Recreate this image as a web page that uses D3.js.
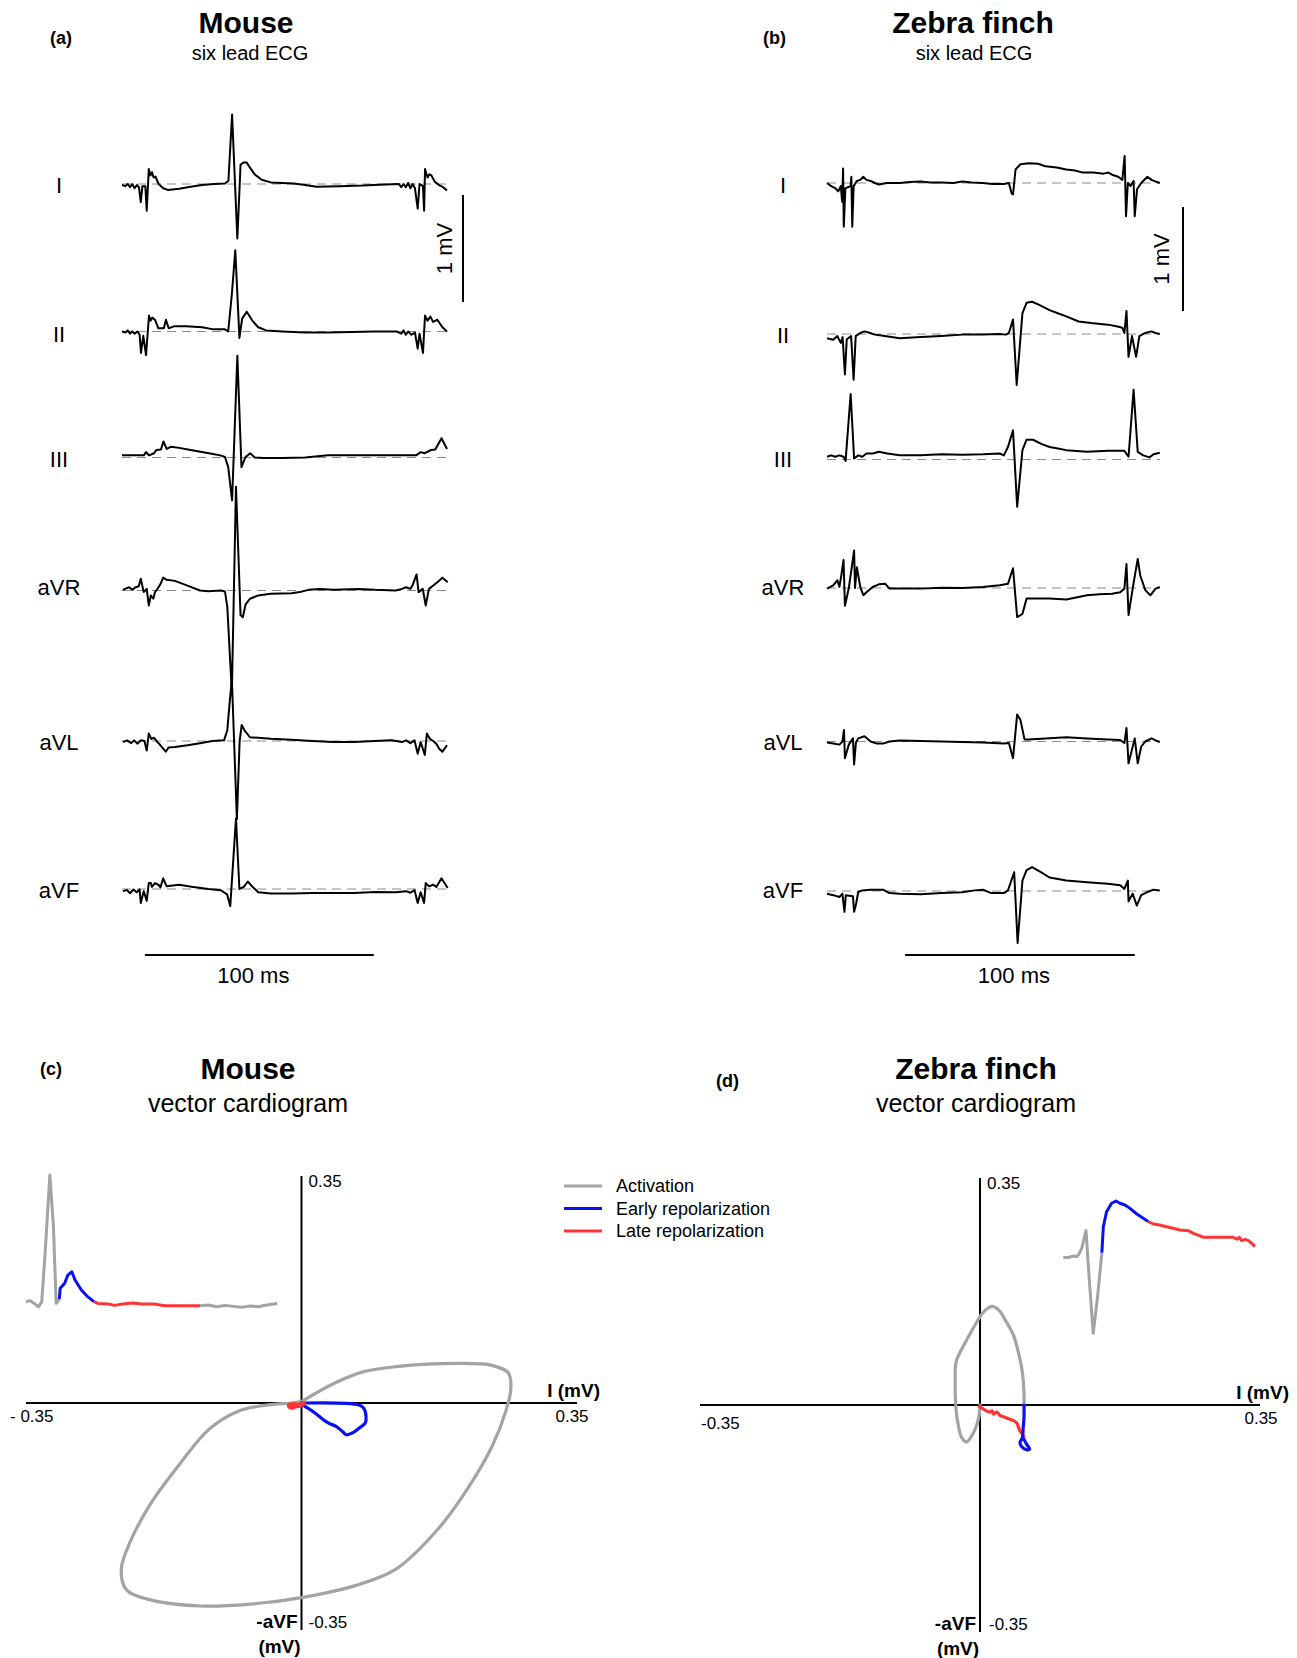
<!DOCTYPE html>
<html>
<head>
<meta charset="utf-8">
<script src="https://cdn.jsdelivr.net/npm/d3@7"></script>
<style>
  body { margin: 0; background: #fff; }
  svg { display: block; }
  text { font-family: "Liberation Sans", Arial, sans-serif; fill: #000; }
</style>
</head>
<body>
<svg id="chart" width="1297" height="1658"></svg>
<script>
// ---- Data: six lead ECG, [time (ms), voltage (mV)] ----
const leadNames = ["I", "II", "III", "aVR", "aVL", "aVF"];

const mouseI = [[0,-0.01],[1.5,-0.02],[2.5,0.0],[3.5,-0.03],[4.5,0.0],[5.5,-0.04],[6.5,-0.01],[7.4,-0.03],[8.2,-0.17],[8.9,-0.02],[10.2,-0.02],[10.8,-0.25],[11.7,0.14],[12.4,0.08],[13.1,0.11],[13.8,0.06],[14.6,0.07],[16,0.0],[18,-0.04],[20,-0.055],[25,-0.045],[30,-0.025],[35,-0.01],[40,0.0],[45,0.005],[46.5,0.03],[48.1,0.65],[50.4,-0.51],[51.8,0.18],[53,0.2],[54.5,0.2],[56,0.15],[58,0.09],[61,0.04],[65,0.015],[70,0.01],[75,0.005],[80,-0.01],[85,-0.025],[95,-0.02],[105,-0.015],[115,-0.005],[121,0.0],[122,-0.03],[123,0.0],[124,-0.03],[125,0.01],[126,-0.04],[127,0.0],[128,-0.04],[129.2,-0.23],[130,0.0],[131.5,-0.02],[132,-0.25],[132.4,0.14],[133.5,0.06],[134.3,0.09],[135.2,0.08],[136.7,0.02],[138.5,-0.01],[140.3,-0.03],[142,-0.06]];
const mouseII = [[0,0],[1.5,-0.01],[2.5,0.01],[3.5,-0.02],[4.5,0.0],[5.5,-0.02],[6.8,0.0],[7.7,-0.03],[8.3,-0.2],[9.3,-0.04],[10.5,-0.22],[11.8,0.15],[12.5,0.1],[13.2,0.13],[14.4,0.11],[15.9,0.03],[18.3,0.03],[19.2,0.11],[20.4,0.03],[23,0.05],[28,0.05],[35,0.04],[40,0.02],[45,0.02],[46.4,0.0],[48,0.35],[49.5,0.76],[51.3,-0.06],[52.5,0.12],[54.5,0.185],[57,0.1],[59.5,0.04],[63,0.01],[70,0.0],[80,-0.01],[90,-0.01],[100,-0.005],[110,0.0],[120,0.0],[122,-0.02],[123,0.01],[124,-0.03],[125,0.0],[126.5,-0.03],[128,-0.01],[129.2,-0.16],[130,-0.02],[131.5,-0.2],[132.4,0.15],[133.5,0.1],[134.7,0.14],[135.9,0.09],[137.8,0.11],[140,0.04],[142,0.0]];
const mouseIII = [[0,0.02],[5,0.02],[9.5,0.02],[10.5,0.05],[11.8,0.02],[14,0.04],[15,0.07],[17,0.075],[18.1,0.15],[19.5,0.08],[21.3,0.1],[25,0.09],[30,0.07],[38,0.04],[43,0.02],[45,0.005],[46.4,-0.09],[48.1,-0.4],[50.4,0.95],[52.2,-0.09],[54,0.005],[56,0.04],[58,0.0],[62,-0.005],[70,-0.005],[80,0.0],[90,0.02],[100,0.02],[110,0.02],[120,0.02],[128.5,0.02],[130.5,0.05],[132.3,0.04],[135,0.07],[136.9,0.075],[139.6,0.18],[142,0.08]];
const mouseAVR = [[0.4,0.006],[1.3,0.015],[3.1,0.03],[4.6,0.006],[5.9,0.03],[7.3,0.04],[8.2,0.11],[9.5,-0.015],[10.8,0.015],[11.7,-0.14],[12.6,-0.046],[13.7,-0.077],[14.4,-0.015],[15.5,0.015],[16.8,0.06],[18.0,0.12],[19.5,0.1],[23.1,0.09],[28.6,0.046],[34.1,0.0],[37.7,-0.006],[43.2,0.0],[45,-0.01],[46,-0.15],[47,-0.55],[48,-0.95],[49.8,0.97],[51.8,-0.23],[52.8,-0.25],[54,-0.13],[55.9,-0.077],[59.5,-0.046],[65,-0.03],[74.1,-0.025],[77.7,-0.015],[81.4,0.006],[86.8,0.015],[92.3,0.006],[103.2,0.015],[110.5,0.006],[119.6,0.0],[122.3,0.015],[124.1,0.03],[126,0.015],[126.9,0.046],[128.7,0.15],[129.6,-0.015],[131.4,0.015],[132.7,-0.14],[134.1,0.015],[136,0.046],[137.8,0.077],[140,0.12],[142.3,0.077]];
const mouseAVL = [[0.4,-0.01],[2.2,0.006],[4.0,-0.02],[5.3,0.006],[6.8,-0.025],[8.2,0.006],[9.8,0.0],[10.8,-0.09],[11.7,0.07],[12.8,0.02],[14.0,0.03],[15.5,-0.01],[16.8,-0.04],[19.1,-0.1],[20.4,-0.06],[23.1,-0.055],[28.6,-0.04],[34.1,-0.02],[39.5,0.0],[44.6,0.006],[46,0.1],[47,0.35],[48,0.58],[50.2,-0.73],[51.4,0.0],[52.3,0.15],[53.5,0.1],[55.9,0.035],[59.5,0.03],[65,0.02],[74.1,0.012],[83.2,0.0],[92.3,-0.01],[101.4,-0.01],[110.5,0.0],[117.8,0.006],[122.3,-0.01],[124.1,0.006],[126,-0.02],[127.8,0.006],[129.2,-0.12],[130.5,-0.01],[132.3,-0.13],[133.2,0.07],[134.5,0.02],[136,0.0],[137.5,-0.03],[138.5,-0.07],[140,-0.1],[142,-0.04]];
const mouseAVF = [[0.4,-0.02],[2.2,-0.01],[3.5,-0.04],[5,-0.005],[6.4,-0.03],[7.7,-0.005],[8.2,-0.13],[9.5,-0.02],[10.8,-0.11],[11.7,0.055],[12.6,0.055],[13.1,0.02],[14.4,0.055],[15.9,0.04],[16.8,0.015],[18.0,0.1],[19.5,0.025],[21.3,0.03],[25,0.04],[30.4,0.02],[37.7,0.0],[43.2,-0.012],[45.9,-0.05],[47.3,-0.16],[49.8,0.66],[51.3,0.0],[53.2,0.02],[55,0.07],[56.8,0.025],[59.5,-0.03],[65,-0.043],[74.1,-0.043],[83.2,-0.037],[92.3,-0.037],[101.4,-0.037],[110.5,-0.028],[119.6,-0.03],[124.1,-0.02],[126,-0.035],[127.8,-0.01],[129.2,-0.13],[130.5,-0.03],[132,-0.13],[132.7,0.055],[134.1,0.025],[135.9,0.04],[137.4,0.02],[139.6,0.1],[142.3,0.01]];

const finchI = [[0,0],[1.8,-0.03],[3.6,-0.05],[4.9,-0.08],[6.0,-0.03],[6.6,-0.18],[7.0,0.14],[7.3,-0.42],[8.0,-0.05],[10.3,-0.03],[10.6,0.06],[11.0,-0.42],[11.6,-0.03],[13.0,0.02],[14.5,0.03],[15.8,0.06],[17.2,0.03],[19,0.02],[20.8,0.0],[22.6,-0.015],[26,0.0],[31.7,0.0],[36,0.01],[40.8,0.015],[45,0.005],[49.8,0.005],[55,0.0],[58.9,0.015],[63,0.005],[67.9,0.0],[72,-0.01],[77,-0.01],[79.2,0.0],[80.4,-0.1],[81.0,-0.11],[82.1,0.13],[84.2,0.18],[87.9,0.19],[92,0.185],[95.1,0.16],[100,0.15],[104.2,0.13],[108,0.12],[111.4,0.1],[116,0.1],[120.5,0.09],[122.5,0.1],[124.1,0.08],[126.8,0.06],[128.6,0.03],[129.6,0.26],[130.2,-0.32],[131,0.0],[132.2,-0.03],[133.5,0.02],[134.0,-0.32],[135,-0.06],[136.8,0.0],[139.5,0.06],[141.3,0.03],[143,0.015],[144.9,0.0]];
const finchII = [[0,-0.04],[2.7,-0.055],[4.5,-0.02],[6.0,-0.085],[6.8,-0.03],[7.8,-0.39],[8.6,-0.05],[10.5,-0.02],[11.6,-0.44],[12.5,-0.02],[14.5,0.01],[16.3,0.025],[18.1,0.015],[20.8,-0.006],[24.4,-0.016],[31.7,-0.04],[40.8,-0.03],[49.8,-0.02],[58.9,-0.006],[67.9,-0.006],[75.2,0.0],[77.9,-0.006],[79.2,0.01],[81.0,0.14],[82.6,-0.49],[85.1,0.2],[86.9,0.3],[89.3,0.31],[92.4,0.28],[96.9,0.23],[100.5,0.2],[104.2,0.17],[109.6,0.12],[115,0.105],[122.3,0.09],[126,0.075],[128.6,0.06],[129.5,0.01],[130.4,0.22],[131.3,-0.22],[132.8,-0.02],[134.6,-0.22],[136.0,-0.02],[138.6,0.01],[141.3,0.025],[143,0.01],[144.9,0.0]];
const finchIII = [[0,0.026],[1.8,0.04],[3.6,0.026],[5.4,0.04],[7.2,0.026],[8.1,-0.013],[10.3,0.63],[11.8,0.01],[13.6,0.04],[15.4,0.026],[17.2,0.058],[19.9,0.058],[22.6,0.074],[26.3,0.058],[31.7,0.04],[40.8,0.04],[49.8,0.05],[58.9,0.045],[67.9,0.05],[75.2,0.058],[77,0.04],[78.8,0.12],[81.0,0.28],[82.8,-0.455],[85.1,0.09],[86.9,0.19],[89.7,0.19],[93.3,0.15],[96.9,0.12],[100.5,0.106],[104.2,0.09],[113.2,0.074],[122.3,0.083],[129.5,0.083],[131.3,0.026],[133.5,0.67],[135.3,0.074],[137.7,0.04],[140.4,0.02],[142.2,0.05],[144.9,0.064]];
const finchAVR = [[0,-0.006],[2.7,0.026],[4.5,0.074],[5.4,0.01],[6.3,0.13],[7.2,0.27],[7.8,-0.17],[9.5,0.0],[11.8,0.36],[12.2,0.0],[13.0,0.2],[14.5,0.01],[15.8,-0.07],[17.2,-0.04],[19.9,0.01],[22.6,0.035],[25.4,0.04],[27.2,-0.006],[31.7,-0.006],[40.8,-0.006],[49.8,0.003],[58.9,0.0],[67.9,0.01],[75.2,0.026],[78.8,0.04],[81.0,0.19],[82.8,-0.28],[85.1,-0.25],[86.9,-0.1],[89.7,-0.1],[96.9,-0.1],[104.2,-0.11],[113.2,-0.07],[118.6,-0.06],[124.1,-0.055],[127.7,-0.04],[129.5,-0.006],[130.4,0.23],[131.3,-0.26],[133.1,-0.006],[135.3,0.28],[136.4,0.12],[138.6,-0.02],[140.8,-0.07],[143.1,-0.006],[144.9,0.01]];
const finchAVL = [[0,-0.01],[2.7,-0.02],[5.4,-0.03],[6.7,0.0],[7.4,0.11],[7.8,-0.16],[9.5,-0.03],[11.3,0.03],[11.8,-0.22],[12.6,-0.01],[13.6,0.03],[16.3,0.05],[19,0.0],[21.7,-0.02],[24.4,-0.02],[27.2,0.0],[31.7,0.01],[40.8,0.005],[49.8,0.0],[58.9,-0.005],[67.9,-0.01],[77,-0.02],[79.2,-0.015],[81.0,-0.16],[82.8,0.26],[84.2,0.21],[86.0,0.02],[87.9,0.02],[95.1,0.03],[104.2,0.04],[113.2,0.03],[122.3,0.02],[127.7,0.015],[129.5,-0.015],[130.4,0.13],[131.3,-0.21],[134.0,0.03],[135.3,-0.21],[136.8,-0.05],[138.6,0.0],[141.3,0.03],[143.1,0.01],[144.9,-0.005]];
const finchAVF = [[0,-0.026],[2.7,-0.04],[5.4,-0.058],[6.7,-0.026],[7.6,-0.2],[8.2,-0.04],[11.3,-0.05],[11.8,-0.2],[12.7,-0.12],[13.6,-0.01],[15.4,0.006],[19,0.013],[24.4,0.013],[27.2,-0.02],[31.7,-0.026],[40.8,-0.032],[49.8,-0.02],[58.9,-0.013],[64.3,0.006],[67.9,0.013],[71.5,-0.02],[77,-0.02],[78.8,0.006],[81.5,0.18],[83.0,-0.5],[85.1,0.1],[86.9,0.2],[89.3,0.23],[93.3,0.18],[96.9,0.13],[104.2,0.1],[113.2,0.085],[122.3,0.07],[127.7,0.055],[129.5,0.02],[131.0,0.1],[131.3,-0.1],[133.1,-0.026],[134.9,-0.14],[136.8,-0.04],[139.5,-0.01],[142.2,0.013],[144.9,0.006]];

// ---- Data: vector cardiograms, [lead I (mV), -aVF (mV)] ----
const mouseVcgActivation = [[0,0.002],[0.041,0.030],[0.078,0.048],[0.120,0.056],[0.200,0.061],[0.242,0.058],[0.263,0.046],[0.266,0.023],[0.260,-0.011],[0.242,-0.067],[0.210,-0.134],[0.173,-0.195],[0.120,-0.256],[0.067,-0.282],[0.0,-0.300],[-0.065,-0.310],[-0.128,-0.313],[-0.197,-0.302],[-0.223,-0.287],[-0.229,-0.256],[-0.218,-0.215],[-0.191,-0.154],[-0.154,-0.093],[-0.118,-0.041],[-0.081,-0.013],[-0.043,-0.003],[-0.012,0.0],[0,0.002]];
const mouseVcgEarly = [[0.004,0.0],[0.073,-0.003],[0.079,-0.008],[0.082,-0.021],[0.081,-0.031],[0.073,-0.039],[0.065,-0.046],[0.057,-0.049],[0.052,-0.044],[0.044,-0.036],[0.036,-0.032],[0.028,-0.026],[0.020,-0.018],[0.012,-0.011],[0.004,-0.005],[0.0,0.0]];
const mouseVcgLate = [[0.003,-0.001],[-0.004,-0.003],[-0.01,-0.002],[-0.016,-0.004],[-0.013,-0.007],[-0.008,-0.005],[-0.003,-0.004],[0.0,-0.002]];

const finchVcgActivation = [[0,0],[-0.001,-0.016],[-0.005,-0.034],[-0.010,-0.047],[-0.017,-0.057],[-0.023,-0.050],[-0.027,-0.032],[-0.030,-0.006],[-0.031,0.030],[-0.030,0.066],[-0.025,0.081],[-0.015,0.104],[-0.004,0.128],[0.004,0.143],[0.015,0.152],[0.023,0.147],[0.033,0.128],[0.042,0.107],[0.048,0.081],[0.053,0.050],[0.055,0.020],[0.055,0.0]];
const finchVcgEarly = [[0.055,0.0],[0.055,-0.02],[0.054,-0.035],[0.053,-0.05],[0.05,-0.058],[0.052,-0.064],[0.058,-0.069],[0.062,-0.068],[0.058,-0.06],[0.055,-0.053]];
const finchVcgLate = [[0.055,-0.05],[0.053,-0.045],[0.05,-0.04],[0.048,-0.034],[0.046,-0.028],[0.042,-0.024],[0.0375,-0.022],[0.031,-0.019],[0.025,-0.016],[0.021,-0.011],[0.017,-0.014],[0.015,-0.009],[0.0125,-0.011],[0.008,-0.009],[0.004,-0.006],[-0.001,-0.002]];

// ---- Data: single beat insets, [time (ms), mV] split by phase ----
const mouseInsetActivation = [[0,0.007],[0.9,0.012],[1.8,-0.002],[2.8,-0.019],[3.5,0.007],[4.2,0.234],[5.3,0.646],[6.1,0.385],[6.7,-0.002],[7.4,0.019]];
const mouseInsetEarly = [[7.4,0.019],[7.6,0.074],[8.6,0.1],[9.3,0.141],[10.2,0.158],[10.9,0.116],[12.3,0.066],[13.7,0.032],[15.1,0.007]];
const mouseInsetLate = [[15.1,0.007],[16.0,-0.002],[18.3,-0.005],[19.7,-0.012],[21.5,-0.005],[23.8,0.0],[25.7,-0.005],[28.5,-0.005],[30.8,-0.014],[34.0,-0.014],[38.7,-0.014]];
const mouseInsetRest = [[38.7,-0.014],[40.5,-0.01],[42.4,-0.019],[44.2,-0.012],[46.1,-0.017],[47.9,-0.022],[49.8,-0.015],[51.6,-0.019],[53.5,-0.01],[55.8,-0.002]];

const finchInsetActivation = [[0.1,0.0],[1.5,0.0],[2.9,0.009],[3.8,0.005],[4.3,0.015],[5.2,0.054],[6.4,0.158],[7.3,-0.132],[8.4,-0.446],[9.6,-0.231],[10.8,0.028]];
const finchInsetEarly = [[10.8,0.028],[11.2,0.181],[12.1,0.269],[13.5,0.319],[14.7,0.332],[15.8,0.319],[17.2,0.309],[18.6,0.289],[20.5,0.256],[22.3,0.231],[23.7,0.211]];
const finchInsetLate = [[23.7,0.211],[25.1,0.197],[26.9,0.191],[28.8,0.181],[30.6,0.172],[32.5,0.162],[34.8,0.158],[36.2,0.142],[37.6,0.132],[39.0,0.119],[42.7,0.119],[47.3,0.119],[48.3,0.107],[49.0,0.119],[49.6,0.099],[50.6,0.107],[51.5,0.099],[52.4,0.084],[53.3,0.064]];

const GRAY = "#a3a3a3", BLUE = "#0a10f5", RED = "#ff3535";

const legendItems = [
  { color: GRAY, text: "Activation" },
  { color: BLUE, text: "Early repolarization" },
  { color: RED, text: "Late repolarization" }
];

const svg = d3.select("#chart");

function addText(x, y, str, size, opts = {}) {
  const t = svg.append("text")
    .attr("x", x)
    .attr("y", y)
    .attr("font-size", size + "px")
    .attr("text-anchor", opts.anchor || "start")
    .attr("font-weight", opts.bold ? "bold" : "normal")
    .text(str);
  if (opts.rotate) t.attr("transform", `rotate(-90, ${x}, ${y})`);
  return t;
}

// ---- Panels (a) and (b): six lead ECG ----
function drawEcg(cfg) {
  const x = d3.scaleLinear().domain(cfg.domain).range(cfg.range);

  cfg.traces.forEach((trace, i) => {
    const base = cfg.baselines[i];
    const y = d3.scaleLinear().domain([0, 1]).range([base, base - cfg.pxPerMv]);

    // dashed zero line
    svg.append("line")
      .attr("x1", x(cfg.domain[0]))
      .attr("x2", x(cfg.domain[1]))
      .attr("y1", y(0))
      .attr("y2", y(0))
      .attr("stroke", "#8c8c8c")
      .attr("stroke-width", 1.1)
      .attr("stroke-dasharray", "9,6");

    const line = d3.line()
      .x(d => x(d[0]))
      .y(d => y(d[1]));

    svg.append("path")
      .datum(trace)
      .attr("fill", "none")
      .attr("stroke", "#000")
      .attr("stroke-width", 2)
      .attr("stroke-linejoin", "round")
      .attr("d", line);

    addText(cfg.labelX, cfg.labelY[i], leadNames[i], 22, { anchor: "middle" });
  });

  // 1 mV scale bar
  const yBar = d3.scaleLinear().domain([0, 1]).range([cfg.mvBar.y0, cfg.mvBar.y0 - cfg.pxPerMv]);
  svg.append("line")
    .attr("x1", cfg.mvBar.x).attr("x2", cfg.mvBar.x)
    .attr("y1", yBar(0)).attr("y2", yBar(1))
    .attr("stroke", "#000").attr("stroke-width", 2);
  addText(cfg.mvBar.x - cfg.mvBar.textDx, (yBar(0) + yBar(1)) / 2, "1 mV", 22, { anchor: "middle", rotate: true });

  // 100 ms scale bar
  svg.append("line")
    .attr("x1", x(cfg.msBar.t0)).attr("x2", x(cfg.msBar.t0 + 100))
    .attr("y1", cfg.msBar.y).attr("y2", cfg.msBar.y)
    .attr("stroke", "#000").attr("stroke-width", 2);
  addText((x(cfg.msBar.t0) + x(cfg.msBar.t0 + 100)) / 2 - 6, cfg.msBar.y + 28, "100 ms", 22, { anchor: "middle" });
}

drawEcg({
  domain: [0, 142], range: [122, 447], pxPerMv: 107,
  traces: [mouseI, mouseII, mouseIII, mouseAVR, mouseAVL, mouseAVF],
  baselines: [184, 331.5, 457.5, 590.5, 741, 889],
  labelX: 59, labelY: [193, 342, 467, 595, 750, 898],
  mvBar: { x: 463, y0: 302, textDx: 11 },
  msBar: { t0: 10, y: 955 }
});

drawEcg({
  domain: [0, 145], range: [827, 1160], pxPerMv: 104,
  traces: [finchI, finchII, finchIII, finchAVR, finchAVL, finchAVF],
  baselines: [183, 334, 459.5, 588, 741.5, 891],
  labelX: 783, labelY: [193, 343, 467, 595, 750, 898],
  mvBar: { x: 1183, y0: 311, textDx: 14 },
  msBar: { t0: 34, y: 955 }
});

// Titles (a) (b)
addText(50, 44, "(a)", 18, { bold: true });
addText(246, 33, "Mouse", 30, { anchor: "middle", bold: true });
addText(250, 60, "six lead ECG", 20, { anchor: "middle" });
addText(763, 44, "(b)", 18, { bold: true });
addText(973, 33, "Zebra finch", 30, { anchor: "middle", bold: true });
addText(974, 60, "six lead ECG", 20, { anchor: "middle" });

// ---- Panels (c) and (d): vector cardiograms ----
function drawVcg(cfg) {
  const x = d3.scaleLinear().domain([-0.35, 0.35]).range(cfg.xRange);
  const y = d3.scaleLinear().domain([-0.35, 0.35]).range(cfg.yRange);

  // Axes
  svg.append("line")
    .attr("x1", x(-0.35)).attr("x2", x(0.35))
    .attr("y1", y(0)).attr("y2", y(0))
    .attr("stroke", "#000").attr("stroke-width", 2);
  svg.append("line")
    .attr("x1", x(0)).attr("x2", x(0))
    .attr("y1", y(-0.35)).attr("y2", y(0.35))
    .attr("stroke", "#000").attr("stroke-width", 2);

  addText(x(0) + 7, y(0.35) + 11, "0.35", 17);
  addText(cfg.leftLabel.x, y(0) + cfg.leftLabel.dy, cfg.leftLabel.text, 17);
  addText(x(0.35) + cfg.rightDx, y(0) + 19, "0.35", 17, { anchor: "middle" });
  addText(x(0.35) + cfg.iDx, y(0) - 6, "I (mV)", 19, { anchor: "end", bold: true });
  addText(x(0) - 4, y(-0.35) - 2, "-aVF", 19, { anchor: "end", bold: true });
  addText(x(0) + cfg.minusDx, y(-0.35) - 2, "-0.35", 17);
  addText(x(0) - 22, y(-0.35) + 23, "(mV)", 19, { anchor: "middle", bold: true });

  const loop = d3.line()
    .x(d => x(d[0]))
    .y(d => y(d[1]))
    .curve(d3.curveCatmullRom);

  cfg.phases.forEach(p => {
    svg.append("path")
      .datum(p.data)
      .attr("fill", "none")
      .attr("stroke", p.color)
      .attr("stroke-width", p.width || 3.2)
      .attr("stroke-linejoin", "round")
      .attr("stroke-linecap", "round")
      .attr("d", loop);
  });

  // inset beat
  const ix = d3.scaleLinear().domain([0, 1]).range([cfg.inset.x0, cfg.inset.x0 + cfg.inset.pxPerMs]);
  const iy = d3.scaleLinear().domain([0, 1]).range([cfg.inset.y0, cfg.inset.y0 - cfg.inset.pxPerMv]);
  const beat = d3.line().x(d => ix(d[0])).y(d => iy(d[1]));
  cfg.inset.parts.forEach(p => {
    svg.append("path")
      .datum(p.data)
      .attr("fill", "none")
      .attr("stroke", p.color)
      .attr("stroke-width", 3)
      .attr("stroke-linejoin", "round")
      .attr("d", beat);
  });
}

drawVcg({
  xRange: [26, 577], yRange: [1630, 1176],
  leftLabel: { x: 10, dy: 19, text: "- 0.35" },
  rightDx: -5, iDx: 23, minusDx: 7,
  phases: [
    { data: mouseVcgActivation, color: GRAY },
    { data: mouseVcgEarly, color: BLUE },
    { data: mouseVcgLate, color: RED, width: 4.5 }
  ],
  inset: {
    x0: 26, pxPerMs: 4.5, y0: 1303, pxPerMv: 198,
    parts: [
      { data: mouseInsetActivation, color: GRAY },
      { data: mouseInsetEarly, color: BLUE },
      { data: mouseInsetLate, color: RED },
      { data: mouseInsetRest, color: GRAY }
    ]
  }
});

drawVcg({
  xRange: [700, 1260], yRange: [1632, 1178],
  leftLabel: { x: 701, dy: 24, text: "-0.35" },
  rightDx: 1, iDx: 29, minusDx: 9,
  phases: [
    { data: finchVcgActivation, color: GRAY },
    { data: finchVcgLate, color: RED },
    { data: finchVcgEarly, color: BLUE }
  ],
  inset: {
    x0: 1063, pxPerMs: 3.6, y0: 1257.5, pxPerMv: 170,
    parts: [
      { data: finchInsetActivation, color: GRAY },
      { data: finchInsetEarly, color: BLUE },
      { data: finchInsetLate, color: RED }
    ]
  }
});

// Titles (c) (d)
addText(40, 1075, "(c)", 18, { bold: true });
addText(248, 1079, "Mouse", 30, { anchor: "middle", bold: true });
addText(248, 1112, "vector cardiogram", 25, { anchor: "middle" });
addText(716, 1087, "(d)", 18, { bold: true });
addText(976, 1079, "Zebra finch", 30, { anchor: "middle", bold: true });
addText(976, 1112, "vector cardiogram", 25, { anchor: "middle" });

// Legend
const legend = svg.append("g").attr("transform", "translate(564, 1186)");
legendItems.forEach((item, i) => {
  legend.append("line")
    .attr("x1", 0).attr("x2", 38)
    .attr("y1", i * 22.5).attr("y2", i * 22.5)
    .attr("stroke", item.color)
    .attr("stroke-width", 3);
  legend.append("text")
    .attr("x", 52)
    .attr("y", i * 22.5 + 6)
    .attr("font-size", "18px")
    .text(item.text);
});
</script>
</body>
</html>
